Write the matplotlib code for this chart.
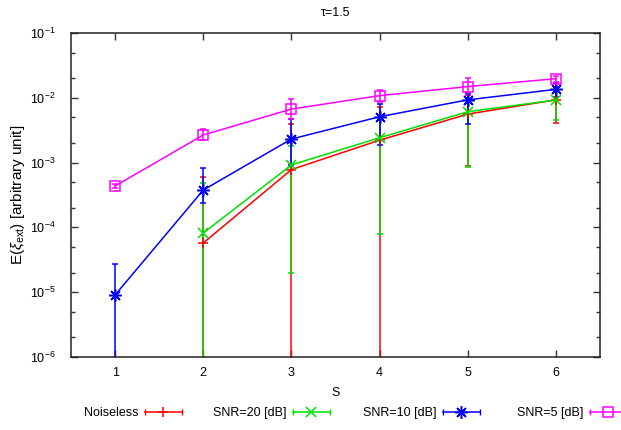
import os

os.environ.setdefault("MPLBACKEND", "Agg")

import numpy as np
import matplotlib.pyplot as plt
from matplotlib.lines import Line2D
from matplotlib.legend_handler import HandlerBase
from matplotlib.ticker import LogLocator, NullFormatter, FixedLocator

plt.rcParams["font.family"] = ["Liberation Sans", "DejaVu Sans"]
plt.rcParams["mathtext.fontset"] = "custom"
plt.rcParams["mathtext.rm"] = "Liberation Sans"
plt.rcParams["mathtext.it"] = "Liberation Sans:italic"
plt.rcParams["axes.unicode_minus"] = False

nan = np.nan

# mean extinction estimate per S, with lower / upper ends of the error bar
S = [1, 2, 3, 4, 5, 6]

noiseless = [nan, 5.75e-5, 7.8e-4, 2.22e-3, 5.6e-3, 9.3e-3]
noiseless_lo = [nan, 0.0, 0.0, 0.0, 8.8e-4, 4.1e-3]
noiseless_hi = [nan, 6.0e-4, 3.95e-3, 7.2e-3, 1.1e-2, 1.45e-2]

snr20 = [nan, 8.2e-5, 9.2e-4, 2.42e-3, 6.1e-3, 9.25e-3]
snr20_lo = [nan, 0.0, 2.0e-5, 7.9e-5, 8.6e-4, 4.5e-3]
snr20_hi = [nan, 4.8e-4, 1.8e-3, 4.8e-3, 1.13e-2, 1.4e-2]

snr10 = [9.06e-6, 3.77e-4, 2.31e-3, 5.1e-3, 9.3e-3, 1.35e-2]
snr10_lo = [0.0, 2.36e-4, 9.2e-4, 1.87e-3, 4.0e-3, 1.04e-2]
snr10_hi = [2.7e-5, 8.3e-4, 4.7e-3, 8.0e-3, 1.2e-2, 1.7e-2]

snr5 = [4.35e-4, 2.67e-3, 6.7e-3, 1.08e-2, 1.49e-2, 1.97e-2]
snr5_lo = [4.0e-4, 2.25e-3, 4.7e-3, 8.6e-3, 1.1e-2, 1.75e-2]
snr5_hi = [4.7e-4, 3.3e-3, 9.6e-3, 1.3e-2, 2.04e-2, 2.2e-2]

labels = ["Noiseless", "SNR=20 [dB]", "SNR=10 [dB]", "SNR=5 [dB]"]
colors = ["#ff0000", "#00e000", "#0000ff", "#ff00ff"]
markers = ["+", "x", (8, 2, 0), "s"]
msizes = [7, 7.5, 9, 7]

series = [
    (noiseless, noiseless_lo, noiseless_hi),
    (snr20, snr20_lo, snr20_hi),
    (snr10, snr10_lo, snr10_hi),
    (snr5, snr5_lo, snr5_hi),
]


class KeyHandler(HandlerBase):
    """gnuplot-like key sample: line with end caps and the point in the middle."""

    def create_artists(self, legend, orig, xdescent, ydescent, width, height,
                       fontsize, trans):
        y = height / 2 - ydescent
        x0, x1 = -xdescent, width - xdescent
        c = orig.get_color()
        line = Line2D([x0, x1], [y, y], color=c, lw=orig.get_linewidth())
        caps = Line2D([x0, x1], [y, y], ls="none", marker="|", ms=5,
                      mew=1.0, color=c)
        mark = Line2D([(x0 + x1) / 2], [y], ls="none", marker=orig.get_marker(),
                      ms=orig.get_markersize(), mfc="none", mec=c,
                      mew=orig.get_markeredgewidth())
        for a in (line, caps, mark):
            a.set_transform(trans)
        return [line, caps, mark]


fig = plt.figure(figsize=(6.21, 4.30), dpi=100)
ax = fig.add_axes([71 / 621, 1 - 357 / 430, 529 / 621, 324 / 430])

handles = []
for (mean, lo, hi), color, marker, ms in zip(series, colors, markers, msizes):
    mean = np.array(mean)
    yerr = [mean - np.array(lo), np.array(hi) - mean]
    ax.errorbar(S, mean, yerr=yerr, color=color, lw=1.1, elinewidth=1.1,
                capsize=2.2, capthick=1.1, marker=marker, ms=ms, mfc="none",
                mec=color, mew=1.1)
    handles.append(Line2D([], [], color=color, lw=1.1, marker=marker, ms=ms,
                          mew=1.1))

ax.set_yscale("log")
ax.set_ylim(1e-6, 1e-1)
ax.set_xlim(0.5, 6.5)
ax.set_xticks(S)
ax.yaxis.set_major_locator(LogLocator(base=10, numticks=10))
ax.yaxis.set_minor_locator(FixedLocator(
    [m * 10.0 ** e for e in range(-6, -1) for m in (2, 5)]))
ax.yaxis.set_minor_formatter(NullFormatter())

ax.tick_params(which="both", direction="in", top=True, right=True,
               labelsize=9, width=1.0, color="#333333")
ax.tick_params(which="major", length=5)
ax.tick_params(which="minor", length=3)
ax.tick_params(axis="y", pad=11)
ax.tick_params(axis="x", pad=7)
for sp in ax.spines.values():
    sp.set_linewidth(1.1)
    sp.set_color("#222222")

ax.set_title("τ=1.5", fontsize=9, pad=12)
ax.set_xlabel("S", fontsize=9, labelpad=6)
fig.text(18 / 621, 1 - 195 / 430, r"E($\xi_{\mathrm{ext}}$) [arbitrary unit]",
         rotation=90, ha="center", va="center", fontsize=11)

# key: equal-width slots, text right-justified in front of each sample
key_ends = [182, 330, 480, 627]
for h, lab, xe in zip(handles, labels, key_ends):
    leg = fig.legend([h], [lab], handler_map={Line2D: KeyHandler()},
                     loc="center right", bbox_to_anchor=(xe / 621, 1 - 413 / 430),
                     frameon=False, markerfirst=False, handlelength=3.0,
                     handletextpad=0.5, borderpad=0, borderaxespad=0,
                     fontsize=9)

fig.savefig("out.png", dpi=100)
plt.close(fig)
